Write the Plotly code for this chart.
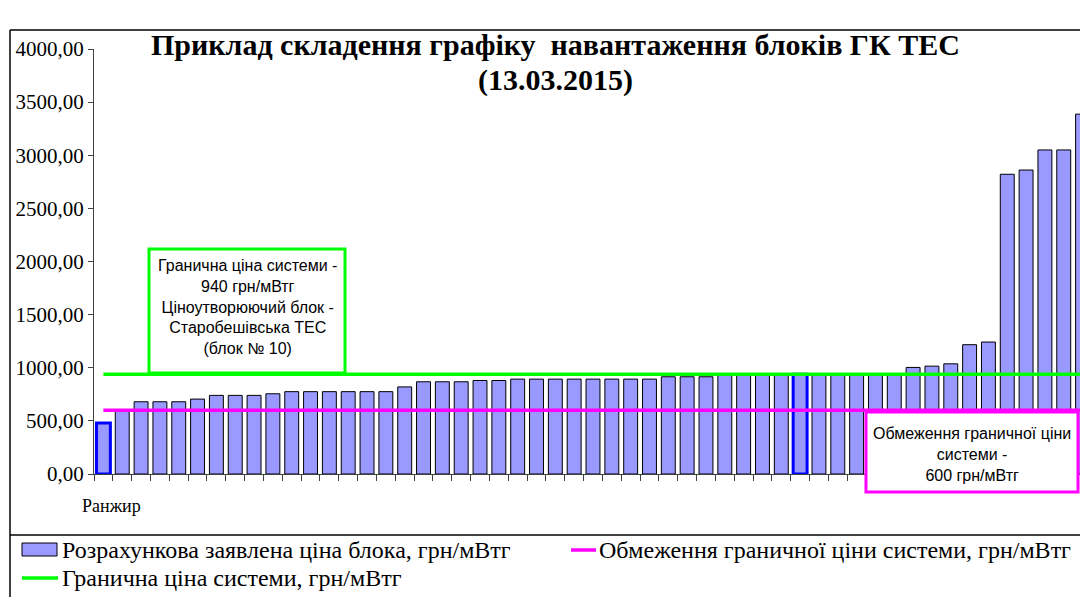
import plotly.graph_objects as go

# ---------------- data ----------------
ranks = list(range(1, 54))
unit_prices = [480, 600, 680, 680, 680, 705, 740, 740, 740, 755,
               775, 775, 775, 775, 775, 775, 820, 868, 868, 868,
               880, 880, 893, 893, 893, 893, 893, 893, 893, 893,
               915, 915, 915, 927, 927, 927, 927, 940, 935, 935,
               935, 935, 935, 1003, 1015, 1037, 1217, 1242, 2821, 2861,
               3050, 3050, 3387]
highlighted_ranks = [1, 38]
system_price = 940
price_cap = 600
y_tickvals = [0, 500, 1000, 1500, 2000, 2500, 3000, 3500, 4000]
y_ticktext = ["0,00", "500,00", "1000,00", "1500,00", "2000,00",
              "2500,00", "3000,00", "3500,00", "4000,00"]

title_line1 = "Приклад складення графіку  навантаження блоків ГК ТЕС"
title_line2 = "(13.03.2015)"
x_title = "Ранжир"
name_bars = "Розрахункова заявлена ціна блока, грн/мВтг"
name_cap = "Обмеження граничної ціни системи, грн/мВтг"
name_sys = "Гранична ціна системи, грн/мВтг"
note_sys = "Гранична ціна системи -<br>940 грн/мВтг<br>Ціноутворюючий блок -<br>Старобешівська ТЕС<br>(блок № 10)"
note_cap = "Обмеження граничної ціни<br>системи -<br>600 грн/мВтг"

# ---------------- layout geometry ----------------
W, H = 1080, 597
ML, MR, MT, MB = 94, 0, 49, 123
PW = W - ML - MR
PH = H - MT - MB
slot = 18.83

def px(x):
    return (x - ML) / PW

def py(y):
    return (H - MB - y) / PH

serif = "Liberation Serif, Times New Roman, serif"
sans = "Liberation Sans, Arial, sans-serif"

line_colors = ["#0000FF" if r in highlighted_ranks else "#000000" for r in ranks]
line_widths = [3 if r in highlighted_ranks else 1 for r in ranks]

fig = go.Figure()
fig.add_trace(go.Bar(
    x=ranks, y=unit_prices, name=name_bars,
    marker=dict(color="#9999FF", line=dict(color=line_colors, width=line_widths)),
    width=0.74, showlegend=False,
))
fig.add_trace(go.Scatter(
    x=ranks, y=[price_cap] * len(ranks), name=name_cap, mode="lines",
    line=dict(color="#FF00FF", width=3.5), showlegend=False,
))
fig.add_trace(go.Scatter(
    x=ranks, y=[system_price] * len(ranks), name=name_sys, mode="lines",
    line=dict(color="#00FF00", width=3.5), showlegend=False,
))

fig.update_xaxes(
    range=[0.5, 0.5 + PW / slot], showgrid=False, zeroline=False,
    showline=True, linecolor="#404040", linewidth=1,
    ticks="outside", ticklen=6, tickcolor="#404040",
    tick0=0.5, dtick=1, showticklabels=False,
)
fig.update_yaxes(
    range=[0, 4000], showgrid=False, zeroline=False,
    showline=True, linecolor="#404040", linewidth=1,
    ticks="outside", ticklen=5, tickcolor="#404040",
    tickvals=y_tickvals, ticktext=y_ticktext,
    tickfont=dict(family=serif, size=21, color="black"),
)

shapes = []
annotations = []

# outer frame and legend divider
shapes.append(dict(type="line", xref="paper", yref="paper", x0=px(10), x1=px(10), y0=py(30), y1=py(600),
                   line=dict(color="black", width=1.5)))
shapes.append(dict(type="line", xref="paper", yref="paper", x0=px(10), x1=px(1082), y0=py(30), y1=py(30),
                   line=dict(color="black", width=1.5)))
shapes.append(dict(type="line", xref="paper", yref="paper", x0=px(10), x1=px(1082), y0=py(535), y1=py(535),
                   line=dict(color="black", width=1.5)))

# note boxes
shapes.append(dict(type="rect", xref="paper", yref="paper", x0=px(149), x1=px(345), y0=py(249), y1=py(373),
                   line=dict(color="#00FF00", width=3), fillcolor="white"))
shapes.append(dict(type="rect", xref="paper", yref="paper", x0=px(866), x1=px(1078), y0=py(412), y1=py(492),
                   line=dict(color="#FF00FF", width=3), fillcolor="white"))
annotations.append(dict(xref="paper", yref="paper", x=px(247), y=py(307), text=note_sys, showarrow=False,
                        font=dict(family=sans, size=16, color="black"), align="center",
                        xanchor="center", yanchor="middle"))
annotations.append(dict(xref="paper", yref="paper", x=px(972), y=py(454), text=note_cap, showarrow=False,
                        font=dict(family=sans, size=16, color="black"), align="center",
                        xanchor="center", yanchor="middle"))

# title
annotations.append(dict(xref="paper", yref="paper", x=px(555), y=py(45), text="<b>" + title_line1 + "</b>",
                        showarrow=False, font=dict(family=serif, size=30, color="black"),
                        xanchor="center", yanchor="middle"))
annotations.append(dict(xref="paper", yref="paper", x=px(555), y=py(80), text="<b>" + title_line2 + "</b>",
                        showarrow=False, font=dict(family=serif, size=30, color="black"),
                        xanchor="center", yanchor="middle"))

# x axis title
annotations.append(dict(xref="paper", yref="paper", x=px(80), y=py(506), text=x_title, showarrow=False,
                        font=dict(family=serif, size=18, color="black"), xanchor="left", yanchor="middle"))

# legend (manual)
shapes.append(dict(type="rect", xref="paper", yref="paper", x0=px(22), x1=px(57), y0=py(543), y1=py(556),
                   line=dict(color="black", width=1), fillcolor="#9999FF"))
annotations.append(dict(xref="paper", yref="paper", x=px(60), y=py(550), text=name_bars, showarrow=False,
                        font=dict(family=serif, size=24, color="black"), xanchor="left", yanchor="middle"))
shapes.append(dict(type="line", xref="paper", yref="paper", x0=px(571), x1=px(596), y0=py(550), y1=py(550),
                   line=dict(color="#FF00FF", width=3.5)))
annotations.append(dict(xref="paper", yref="paper", x=px(597), y=py(550), text=name_cap, showarrow=False,
                        font=dict(family=serif, size=24, color="black"), xanchor="left", yanchor="middle"))
shapes.append(dict(type="line", xref="paper", yref="paper", x0=px(22), x1=px(58), y0=py(578), y1=py(578),
                   line=dict(color="#00FF00", width=3.5)))
annotations.append(dict(xref="paper", yref="paper", x=px(60), y=py(578), text=name_sys, showarrow=False,
                        font=dict(family=serif, size=24, color="black"), xanchor="left", yanchor="middle"))

fig.update_layout(
    width=W, height=H,
    font=dict(family=serif, color="black"),
    margin=dict(l=ML, r=MR, t=MT, b=MB, autoexpand=False),
    paper_bgcolor="white", plot_bgcolor="white",
    shapes=shapes, annotations=annotations,
    showlegend=False, bargap=0.26,
)

fig.write_html("out.html", config={"displayModeBar": False},
               post_script="document.body.style.margin='0';document.body.style.overflow='hidden';")
